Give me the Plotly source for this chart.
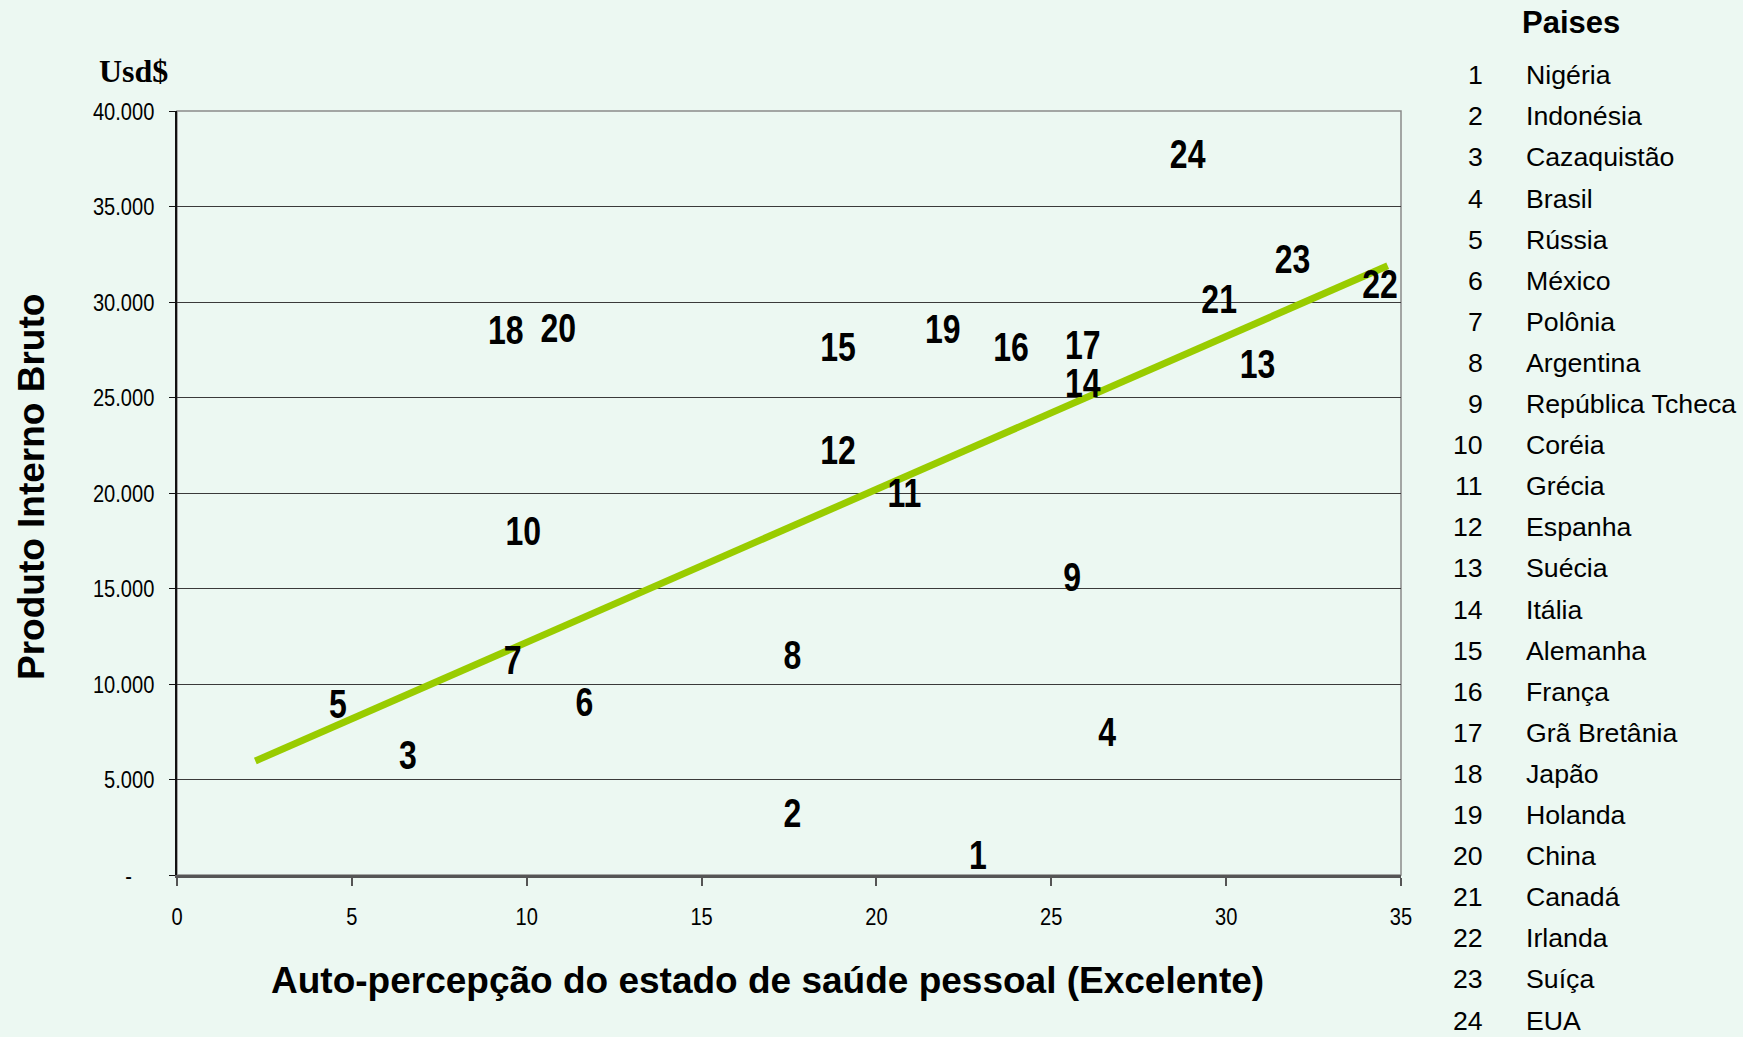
import plotly.graph_objects as go

# ---- data ----
country_ids = list(range(1, 25))
country_names = ["Nigéria", "Indonésia", "Cazaquistão", "Brasil", "Rússia", "México",
                 "Polônia", "Argentina", "República Tcheca", "Coréia", "Grécia", "Espanha",
                 "Suécia", "Itália", "Alemanha", "França", "Grã Bretânia", "Japão",
                 "Holanda", "China", "Canadá", "Irlanda", "Suíça", "EUA"]
saude_excelente = [22.9, 17.6, 6.6, 26.6, 4.6, 11.65, 9.6, 17.6, 25.6, 9.9, 20.8, 18.9,
                   30.9, 25.9, 18.9, 23.85, 25.9, 9.4, 21.9, 10.9, 29.8, 34.4, 31.9, 28.9]
pib_usd = [820, 3040, 6050, 7300, 8720, 8840, 11070, 11300, 15400, 17790, 19800, 22020,
           26530, 25560, 27450, 27450, 27550, 28310, 28360, 28440, 29930, 30720, 32060, 37560]
trend_x = [2.24, 34.62]
trend_y = [5970, 31900]
y_tickvals = [0, 5000, 10000, 15000, 20000, 25000, 30000, 35000, 40000]
y_ticktext = ["-\u00a0\u00a0\u00a0\u00a0", "5.000", "10.000", "15.000", "20.000",
              "25.000", "30.000", "35.000", "40.000"]
x_tickvals = [0, 5, 10, 15, 20, 25, 30, 35]

# ---- layout constants ----
W, H = 1743, 1037
ML, MR, MT, MB = 177, 342, 111, 162
BG = "#ECF8F2"
SANS = "Liberation Sans, Arial, sans-serif"
NARROW = "Liberation Sans Narrow, Arial Narrow, Liberation Sans, Arial, sans-serif"


def px_x(px):
    return (px - ML) / (W - ML - MR)


def px_y(py):
    return (H - MB - py) / (H - MT - MB)


fig = go.Figure()
fig.add_trace(go.Scatter(x=trend_x, y=trend_y, mode="lines",
                         line=dict(color="#99CC00", width=7), hoverinfo="skip"))
fig.add_trace(go.Scatter(x=saude_excelente, y=pib_usd, mode="text",
                         text=[str(i) for i in country_ids],
                         textposition="middle center",
                         textfont=dict(family=NARROW, size=40, color="black", weight="bold")))

annotations = []
annotations.append(dict(xref="paper", yref="paper", x=px_x(767), y=px_y(980),
                        text="<b>Auto-percepção do estado de saúde pessoal (Excelente)</b>",
                        showarrow=False, xanchor="center", yanchor="middle",
                        font=dict(family=SANS, size=37, color="black")))
annotations.append(dict(xref="paper", yref="paper", x=px_x(31), y=px_y(487),
                        text="<b>Produto Interno Bruto</b>", textangle=-90,
                        showarrow=False, xanchor="center", yanchor="middle",
                        font=dict(family=SANS, size=37, color="black")))
annotations.append(dict(xref="paper", yref="paper", x=px_x(133), y=px_y(71),
                        text="<b>Usd$</b>", showarrow=False,
                        xanchor="center", yanchor="middle",
                        font=dict(family="Liberation Serif, Times New Roman, serif",
                                  size=32, color="black")))
annotations.append(dict(xref="paper", yref="paper", x=px_x(1520), y=px_y(23),
                        text="<b>Paises</b>", showarrow=False,
                        xanchor="left", yanchor="middle",
                        font=dict(family=SANS, size=31, color="black")))
for i, (cid, name) in enumerate(zip(country_ids, country_names)):
    yy = px_y(75.2 + i * 41.1)
    annotations.append(dict(xref="paper", yref="paper", x=px_x(1485), y=yy,
                            text=str(cid), showarrow=False,
                            xanchor="right", yanchor="middle",
                            font=dict(family=SANS, size=26.7, color="black")))
    annotations.append(dict(xref="paper", yref="paper", x=px_x(1524), y=yy,
                            text=name, showarrow=False,
                            xanchor="left", yanchor="middle",
                            font=dict(family=SANS, size=26.7, color="black")))

fig.update_layout(
    width=W, height=H,
    margin=dict(l=ML, r=MR, t=MT, b=MB, pad=0),
    paper_bgcolor=BG, plot_bgcolor=BG,
    showlegend=False,
    annotations=annotations,
    shapes=[dict(type="rect", xref="x domain", yref="y domain", x0=0, x1=1, y0=0, y1=1,
                 line=dict(color="#8a8a8a", width=1.5), layer="below")],
    xaxis=dict(range=[0, 35], tickvals=x_tickvals, showgrid=False, zeroline=False,
               showline=True, linecolor="#555555", linewidth=2.5,
               ticks="outside", ticklen=8, tickwidth=1.5, tickcolor="#555555",
               ticklabelstandoff=10,
               tickfont=dict(family=NARROW, size=24.5, color="black")),
    yaxis=dict(range=[0, 40000], tickvals=y_tickvals, ticktext=y_ticktext,
               showgrid=True, gridcolor="#3a3a3a", gridwidth=1.3, zeroline=False,
               showline=True, linecolor="#111111", linewidth=1.5,
               ticks="outside", ticklen=6, tickwidth=1.3, tickcolor="#111111",
               ticklabelstandoff=10,
               tickfont=dict(family=NARROW, size=24.5, color="black")),
)

# Narrow (condensed) look of the original labels: squeeze the glyphs horizontally
post = """
document.body.style.margin='0';
try {
  var gd = document.getElementById('{plot_id}');
  function squeeze(sel, s) {
    gd.querySelectorAll(sel).forEach(function(t) {
      var x = parseFloat(t.getAttribute('x') || '0');
      var tr = t.getAttribute('transform') || '';
      t.setAttribute('transform', tr + ' translate(' + x + ',0) scale(' + s + ',1) translate(' + (-x) + ',0)');
    });
  }
  squeeze('.textpoint text', 0.8);
  squeeze('.xtick text', 0.82);
  squeeze('.ytick text', 0.82);
} catch (e) {}
"""

fig.write_html("out.html", post_script=post, config={"displayModeBar": False})
